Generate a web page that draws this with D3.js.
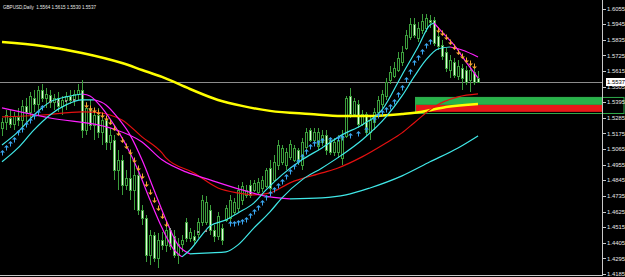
<!DOCTYPE html>
<html>
<head>
<meta charset="utf-8">
<script src="https://cdn.jsdelivr.net/npm/d3@7"></script>
<style>
  html, body { margin: 0; padding: 0; background: #000; }
  svg { display: block; }
</style>
</head>
<body>
<svg id="chart" width="625" height="277"></svg>
<script>
// GBPUSD daily candles with moving averages, trend bands, arrows and a zone box.
// values (price units)

const chartTitle = "GBPUSD,Daily  1.5564 1.5615 1.5530 1.5537";
const lastPrice = 1.5537;
const priceTicks = [1.6055, 1.5945, 1.5835, 1.5725, 1.5615, 1.5505, 1.5395, 1.5285, 1.5175,
  1.5065, 1.4955, 1.4845, 1.4735, 1.4625, 1.4515, 1.4405, 1.4295, 1.4185];

const opens = [1.5214,1.5256,1.5284,1.5242,1.5291,1.5270,1.5369,1.5327,1.5425,1.5383,
  1.5481,1.5425,1.5446,1.5397,1.5425,1.5369,1.5411,1.5439,1.5411,1.5453,
  1.5481,1.5200,1.5355,1.5235,1.5305,1.5186,1.5270,1.5115,1.5129,1.4918,
  1.4989,1.4813,1.4862,1.4777,1.4883,1.4637,1.4580,1.4320,1.4461,1.4299,
  1.4425,1.4390,1.4496,1.4454,1.4320,1.4397,1.4552,1.4439,1.4454,1.4468,
  1.4552,1.4552,1.4637,1.4496,1.4454,1.4510,1.4566,1.4580,1.4623,1.4651,
  1.4707,1.4742,1.4813,1.4777,1.4763,1.4791,1.4806,1.4932,1.4848,1.4953,
  1.4975,1.4953,1.5010,1.4989,1.5059,1.4953,1.5080,1.5200,1.5129,1.5087,
  1.5115,1.5165,1.5129,1.5045,1.5045,1.5003,1.5158,1.5439,1.5312,1.5383,
  1.5242,1.5312,1.5186,1.5256,1.5327,1.5383,1.5439,1.5552,1.5580,1.5622,
  1.5679,1.5777,1.5855,1.5946,1.5847,1.5904,1.5918,1.5974,1.5974,1.5862,
  1.5798,1.5749,1.5622,1.5679,1.5580,1.5636,1.5622,1.5552,1.5608,1.5564];

const highs = [1.5284,1.5341,1.5341,1.5327,1.5355,1.5411,1.5425,1.5467,1.5481,1.5510,
  1.5524,1.5495,1.5481,1.5453,1.5467,1.5439,1.5467,1.5481,1.5481,1.5524,
  1.5552,1.5397,1.5411,1.5341,1.5355,1.5305,1.5298,1.5214,1.5165,1.5059,
  1.5024,1.4918,1.5038,1.4989,1.4918,1.4672,1.4601,1.4496,1.4482,1.4475,
  1.4482,1.4531,1.4510,1.4496,1.4439,1.4461,1.4580,1.4510,1.4496,1.4580,
  1.4742,1.4735,1.4672,1.4531,1.4623,1.4538,1.4672,1.4742,1.4721,1.4813,
  1.4834,1.4813,1.4848,1.4848,1.4862,1.4876,1.4932,1.4989,1.5024,1.5129,
  1.5094,1.5073,1.5129,1.5094,1.5073,1.5143,1.5214,1.5214,1.5214,1.5214,
  1.5200,1.5200,1.5143,1.5143,1.5165,1.5200,1.5439,1.5495,1.5425,1.5411,
  1.5341,1.5327,1.5298,1.5355,1.5439,1.5481,1.5566,1.5650,1.5679,1.5749,
  1.5791,1.5904,1.5988,1.5988,1.5960,1.6016,1.6016,1.6009,1.5995,1.5904,
  1.5833,1.5777,1.5728,1.5707,1.5693,1.5664,1.5650,1.5679,1.5636,1.5615];

const lows = [1.5158,1.5200,1.5214,1.5200,1.5228,1.5214,1.5235,1.5284,1.5327,1.5341,
  1.5397,1.5355,1.5355,1.5341,1.5327,1.5305,1.5341,1.5383,1.5369,1.5411,
  1.5143,1.5165,1.5200,1.5129,1.5143,1.5094,1.5059,1.5059,1.4848,1.4777,
  1.4742,1.4777,1.4707,1.4637,1.4601,1.4531,1.4271,1.4249,1.4271,1.4228,
  1.4355,1.4341,1.4355,1.4299,1.4256,1.4341,1.4411,1.4411,1.4390,1.4439,
  1.4524,1.4531,1.4461,1.4411,1.4425,1.4390,1.4552,1.4531,1.4601,1.4623,
  1.4672,1.4721,1.4721,1.4763,1.4742,1.4763,1.4791,1.4763,1.4834,1.4918,
  1.4953,1.4918,1.4989,1.4975,1.4953,1.4918,1.5059,1.5115,1.5115,1.5059,
  1.5087,1.5024,1.5024,1.5017,1.5003,1.4953,1.5143,1.5284,1.5298,1.5214,
  1.5228,1.5158,1.5129,1.5200,1.5312,1.5355,1.5411,1.5524,1.5566,1.5608,
  1.5650,1.5763,1.5833,1.5847,1.5819,1.5876,1.5890,1.5918,1.5791,1.5763,
  1.5693,1.5608,1.5566,1.5566,1.5552,1.5481,1.5517,1.5467,1.5517,1.5530];

const closes = [1.5256,1.5305,1.5242,1.5298,1.5270,1.5369,1.5327,1.5439,1.5383,1.5481,
  1.5425,1.5453,1.5397,1.5425,1.5369,1.5411,1.5439,1.5411,1.5453,1.5481,
  1.5200,1.5355,1.5235,1.5305,1.5186,1.5270,1.5115,1.5165,1.4918,1.4989,
  1.4813,1.4862,1.4777,1.4883,1.4637,1.4580,1.4320,1.4461,1.4299,1.4425,
  1.4390,1.4496,1.4383,1.4320,1.4397,1.4425,1.4439,1.4482,1.4425,1.4552,
  1.4707,1.4693,1.4496,1.4454,1.4594,1.4425,1.4651,1.4707,1.4693,1.4777,
  1.4806,1.4777,1.4742,1.4827,1.4834,1.4848,1.4918,1.4791,1.4975,1.5094,
  1.5073,1.5045,1.5101,1.5073,1.4975,1.5115,1.5186,1.5129,1.5186,1.5186,
  1.5165,1.5059,1.5045,1.5115,1.5129,1.5158,1.5425,1.5312,1.5404,1.5242,
  1.5312,1.5186,1.5270,1.5327,1.5411,1.5453,1.5538,1.5608,1.5636,1.5707,
  1.5749,1.5869,1.5946,1.5869,1.5918,1.5967,1.5988,1.5960,1.5812,1.5791,
  1.5721,1.5636,1.5693,1.5587,1.5650,1.5566,1.5538,1.5622,1.5538,1.5537];

// indicator lines: [bar, price]
const longMA = [[0,1.5819],[10,1.5791],[20,1.5742],[30,1.5671],[35,1.5622],[40,1.5573],
  [47,1.5488],[54,1.5411],[60,1.5369],[67,1.5334],[77,1.5312],[85,1.5298],[92,1.5298],
  [100,1.5312],[105,1.5327],[111,1.5362],[119,1.5383]];

const midMA = [[0,1.5291],[10,1.5305],[20,1.5327],[25,1.5319],[27,1.5305],[30,1.5270],
  [35,1.5151],[40,1.5038],[41,1.5003],[48,1.4897],[54,1.4791],[59,1.4756],[63,1.4742],
  [67,1.4756],[72,1.4827],[80,1.4897],[84,1.4932],[90,1.5010],[96,1.5108],[100,1.5179],
  [103,1.5249],[108,1.5362],[114,1.5432],[119,1.5453]];

const slowLine = [[0,1.5355],[12,1.5284],[27,1.5214],[35,1.5115],[40,1.4989],[46,1.4904],
  [52,1.4848],[60,1.4777],[67,1.4728],[72,1.4714],[80,1.4721],[86,1.4742],[92,1.4791],
  [100,1.4876],[107,1.4975],[114,1.5073],[119,1.5158]];

const fastA = [[0,1.5094],[4,1.5186],[8,1.5305],[12,1.5397],[16,1.5432],[20,1.5453],
  [22,1.5439],[25,1.5355],[28,1.5235],[31,1.5094],[34,1.4918],[37,1.4707],[40,1.4510],
  [43,1.4355],[45,1.4306],[47,1.4355],[50,1.4461],[52,1.4524],[56,1.4566],[59,1.4615],
  [63,1.4686],[66,1.4777],[70,1.4883],[75,1.4989],[80,1.5073],[85,1.5165],[90,1.5235],
  [95,1.5341],[100,1.5587],[104,1.5784],[107,1.5939],[108,1.5953],[110,1.5890],
  [113,1.5798],[116,1.5679],[119,1.5566]];

const fastB = [[0,1.4975],[4,1.5073],[8,1.5200],[12,1.5305],[16,1.5376],[20,1.5411],
  [23,1.5412],[26,1.5376],[29,1.5284],[32,1.5165],[35,1.4989],[38,1.4777],[41,1.4566],
  [44,1.4390],[47,1.4327],[52,1.4334],[56,1.4341],[59,1.4390],[63,1.4510],[67,1.4623],
  [70,1.4721],[75,1.4848],[80,1.4932],[85,1.5024],[90,1.5129],[96,1.5291],[100,1.5439],
  [103,1.5573],[106,1.5693],[109,1.5770],[112,1.5784],[115,1.5763],[119,1.5714]];

const upArrows = [[0,1.5038],[1,1.5073],[2,1.5101],[3,1.5129],[4,1.5179],[5,1.5200],
  [6,1.5235],[7,1.5263],[8,1.5291],[9,1.5319],[10,1.5355],
  [57,1.4538],[58,1.4538],[59,1.4545],[60,1.4552],[61,1.4566],[62,1.4594],[63,1.4623],
  [64,1.4651],[65,1.4686],[66,1.4721],[67,1.4749],[68,1.4777],[69,1.4806],[70,1.4834],
  [71,1.4869],[72,1.4904],[73,1.4939],[74,1.4975],[75,1.5010],[76,1.5045],[77,1.5080],
  [78,1.5101],[79,1.5108],[80,1.5122],[82,1.5129],[84,1.5136],[85,1.5143],[87,1.5158],
  [89,1.5172],[91,1.5200],[93,1.5270],[94,1.5298],[95,1.5319],[96,1.5341],[97,1.5362],
  [98,1.5397],[99,1.5446],[100,1.5495],[101,1.5552],[102,1.5608],[103,1.5671],
  [104,1.5707],[105,1.5749],[106,1.5791],[107,1.5819]];

const downArrows = [[21,1.5376],[22,1.5355],[23,1.5341],[24,1.5327],[25,1.5305],
  [26,1.5284],[27,1.5256],[28,1.5214],[29,1.5179],[30,1.5129],[31,1.5087],[32,1.5045],
  [33,1.4989],[34,1.4932],[35,1.4876],[36,1.4820],[37,1.4763],[38,1.4707],[39,1.4651],
  [40,1.4594],[41,1.4538],
  [109,1.5904],[110,1.5883],[111,1.5855],[112,1.5819],[113,1.5784],[114,1.5749],
  [115,1.5721],[116,1.5693],[117,1.5671],[118,1.5650]];

const neutralDots = [[12,1.5397],[14,1.5397],[16,1.5404],[18,1.5411],
  [42,1.4503],[49,1.4482],[51,1.4489]];

// supply/demand zone, from bar to right edge
const zoneStartBar = 103.25;
const zoneTop = 1.5432, zoneMid = 1.5376, zoneRedBottom = 1.5327, zoneBottom = 1.5319;

// ---------------------------------------------------------------
const W = 625, H = 277;
const plotRight = 602;
const font = "Liberation Sans, Arial, sans-serif";

const svg = d3.select("#chart");
svg.append("rect").attr("width", W).attr("height", H).attr("fill", "#000");

const x = d3.scaleLinear().domain([0, 119]).range([2, 478]);
const y = d3.scaleLinear().domain([1.4185, 1.6055]).range([274, 8.5]);

const colors = {
  wick: "#3c9e3c",
  bearBody: "#e4fbdc",
  bullBody: "#000",
  yellow: "#ffff00",
  red: "#e41010",
  magenta: "#ff20ff",
  cyan: "#40e8e8",
  upArrow: "#3aa6f0",
  downArrow: "#f5a430",
  axis: "#c8c8c8",
  text: "#e8e8e8"
};

// zone box (drawn under the candles and lines)
const zx = Math.round(x(zoneStartBar));
svg.append("rect")
  .attr("x", zx).attr("y", y(zoneTop))
  .attr("width", plotRight - zx).attr("height", y(zoneMid) - y(zoneTop))
  .attr("fill", "#27b24a");
svg.append("rect")
  .attr("x", zx).attr("y", y(zoneMid))
  .attr("width", plotRight - zx).attr("height", y(zoneRedBottom) - y(zoneMid))
  .attr("fill", "#e81818");
svg.append("rect")
  .attr("x", zx + 0.5).attr("y", y(zoneTop) + 0.5)
  .attr("width", W - 1.5 - zx).attr("height", y(zoneBottom) - y(zoneTop))
  .attr("fill", "none").attr("stroke", "#2fa84a").attr("stroke-width", 1);

// current price line
svg.append("line")
  .attr("x1", 0).attr("x2", plotRight)
  .attr("y1", Math.round(y(lastPrice)) + 0.5).attr("y2", Math.round(y(lastPrice)) + 0.5)
  .attr("stroke", "#8c8c8c").attr("stroke-width", 1);

// candles
const bars = d3.range(opens.length).map((i) => ({
  i, o: opens[i], h: highs[i], l: lows[i], c: closes[i]
}));

const candleG = svg.append("g").attr("shape-rendering", "crispEdges");
candleG.selectAll("line.wick")
  .data(bars).enter().append("line")
  .attr("class", "wick")
  .attr("x1", (d) => Math.round(x(d.i)) + 0.5)
  .attr("x2", (d) => Math.round(x(d.i)) + 0.5)
  .attr("y1", (d) => y(d.h))
  .attr("y2", (d) => y(d.l))
  .attr("stroke", colors.wick);

candleG.selectAll("rect.body")
  .data(bars).enter().append("rect")
  .attr("class", "body")
  .attr("x", (d) => Math.round(x(d.i)) - 0.5)
  .attr("width", 2)
  .attr("y", (d) => Math.round(y(Math.max(d.o, d.c))) + 0.5)
  .attr("height", (d) => Math.max(1, Math.round(y(Math.min(d.o, d.c))) - Math.round(y(Math.max(d.o, d.c)))))
  .attr("fill", (d) => (d.c > d.o ? colors.bullBody : colors.bearBody))
  .attr("stroke", colors.wick);

// line helpers
const lineGen = d3.line()
  .x((d) => x(d[0]))
  .y((d) => y(d[1]))
  .curve(d3.curveMonotoneX);

function drawLine(pts, color, width) {
  svg.append("path")
    .attr("d", lineGen(pts))
    .attr("fill", "none")
    .attr("stroke", color)
    .attr("stroke-width", width)
    .attr("stroke-linejoin", "round");
}

// colour by slope: rising = cyan, falling = magenta
function drawTrendLine(pts, width) {
  let run = [pts[0]];
  let cur = null;
  for (let k = 1; k < pts.length; k++) {
    const col = pts[k][1] >= pts[k - 1][1] ? colors.cyan : colors.magenta;
    if (cur !== null && col !== cur) {
      drawLine(run, cur, width);
      run = [pts[k - 1]];
    }
    cur = col;
    run.push(pts[k]);
  }
  drawLine(run, cur, width);
}

drawLine(longMA, colors.yellow, 2.5);
drawLine(midMA, colors.red, 1.2);
drawTrendLine(slowLine, 1.2);
drawTrendLine(fastB, 1.2);
drawTrendLine(fastA, 1.2);

// arrows
function arrowPath(cx, cy, up) {
  const s = up ? 1 : -1;
  // head then stem
  return `M${cx - 2},${cy - 0.5 * s} L${cx + 0.5},${cy - 3 * s} L${cx + 3},${cy - 0.5 * s} Z` +
    `M${cx},${cy - 1 * s} L${cx + 1},${cy - 1 * s} L${cx + 1},${cy + 2.5 * s} L${cx},${cy + 2.5 * s} Z`;
}

svg.append("g").selectAll("path.up")
  .data(upArrows).enter().append("path")
  .attr("class", "up")
  .attr("d", (d) => arrowPath(Math.round(x(d[0])), Math.round(y(d[1])), true))
  .attr("fill", colors.upArrow);

svg.append("g").selectAll("path.down")
  .data(downArrows).enter().append("path")
  .attr("class", "down")
  .attr("d", (d) => arrowPath(Math.round(x(d[0])), Math.round(y(d[1])), false))
  .attr("fill", colors.downArrow);

svg.append("g").selectAll("rect.dot")
  .data(neutralDots).enter().append("rect")
  .attr("class", "dot")
  .attr("x", (d) => Math.round(x(d[0])) - 1)
  .attr("y", (d) => Math.round(y(d[1])) - 1)
  .attr("width", 2).attr("height", 2)
  .attr("fill", "#9a9a9a");

// frame and price axis
const axisG = svg.append("g").attr("shape-rendering", "crispEdges");
axisG.append("line")
  .attr("x1", plotRight + 0.5).attr("x2", plotRight + 0.5)
  .attr("y1", 0).attr("y2", 276)
  .attr("stroke", colors.axis);
axisG.append("line")
  .attr("x1", 0).attr("x2", plotRight)
  .attr("y1", 275.5).attr("y2", 275.5)
  .attr("stroke", colors.axis);

axisG.selectAll("line.tick")
  .data(priceTicks).enter().append("line")
  .attr("class", "tick")
  .attr("x1", plotRight).attr("x2", plotRight + 4)
  .attr("y1", (d) => Math.round(y(d)) + 0.5)
  .attr("y2", (d) => Math.round(y(d)) + 0.5)
  .attr("stroke", colors.axis);

svg.append("g").selectAll("text.tick")
  .data(priceTicks).enter().append("text")
  .attr("class", "tick")
  .attr("x", plotRight + 5)
  .attr("y", (d) => y(d) + 2.2)
  .attr("fill", colors.text)
  .attr("font-family", font)
  .attr("font-size", 5.9)
  .text((d) => d.toFixed(4));

// last price label
const ly = Math.round(y(lastPrice));
svg.append("rect")
  .attr("x", plotRight + 4).attr("y", ly - 4)
  .attr("width", 19).attr("height", 8)
  .attr("fill", "#fff");
svg.append("text")
  .attr("x", plotRight + 5).attr("y", ly + 2.2)
  .attr("fill", "#000")
  .attr("font-family", font)
  .attr("font-size", 5.9)
  .text(lastPrice.toFixed(4));

// title
svg.append("text")
  .attr("x", 3).attr("y", 8.5)
  .attr("fill", colors.text)
  .attr("font-family", font)
  .attr("font-size", 5.6)
  .attr("textLength", 93)
  .attr("lengthAdjust", "spacingAndGlyphs")
  .attr("xml:space", "preserve")
  .text(chartTitle);
</script>
</body>
</html>
